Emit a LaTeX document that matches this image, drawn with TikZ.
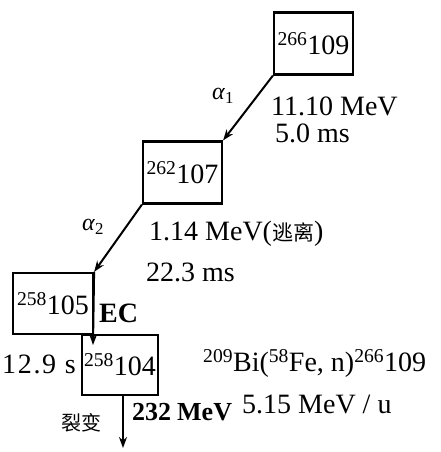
\documentclass[tikz,border=0pt]{standalone}
\usepackage{fontspec}
\setmainfont{Liberation Serif}
\newfontfamily\cjk{Noto Sans CJK SC}
\usetikzlibrary{arrows.meta}

\begin{document}
\begin{tikzpicture}[x=1pt, y=-1pt,
  nucbox/.style={draw, line width=2.2pt, minimum width=79pt, minimum height=62pt, inner sep=0pt, font=\fontsize{28}{30}\selectfont},
  decay/.style={line width=2pt, -{Stealth[length=11pt,width=8pt]}},
  lab/.style={inner sep=0pt, anchor=west, font=\fontsize{28}{30}\selectfont},
  alab/.style={inner sep=0pt, font=\fontsize{24}{26}\selectfont}]
\useasboundingbox (0,0) rectangle (440,452);
\node[nucbox] (mt) at (313.5,43.5) {\textsuperscript{266}109};
\node[nucbox] (bh) at (182.5,172.5) {\textsuperscript{262}107};
\node[nucbox, minimum width=80pt, minimum height=61pt] (db) at (53,303.5) {\textsuperscript{258}105};
\node[nucbox, minimum width=76pt, minimum height=60pt] (rf) at (120,365) {\textsuperscript{258}104};
\coordinate (ecend) at (93,345);
\coordinate (fis) at (123,448);
% decays
\draw[decay] (mt.south west) -- (bh.north east);
\draw[decay] (bh.south west) -- (db.north east);
\draw[decay] (db.north east) -- (ecend);
\draw[decay] (rf.south -| fis) -- (fis);
% labels
\node[alab] (a1) at (223,96) {\textit{α}\textsubscript{1}};
\node[lab] (e1) at (271,106) {11.10 MeV};
\node[lab] (t1) at (275,133) {5.0 ms};
\node[alab] (a2) at (93,227) {\textit{α}\textsubscript{2}};
\node[lab] (e2) at (149,234) {1.14 MeV({\cjk\fontsize{21}{22}\selectfont 逃离})};
\node[lab] (t2) at (146,272) {22.3 ms};
\node[lab, font=\fontsize{28}{30}\selectfont\bfseries] (ec) at (99,313) {EC};
\node[lab] (t3) at (2,364) {\addfontfeatures{LetterSpace=6}12.9 s};
\node[lab] (rx) at (203,363) {\textsuperscript{209}Bi(\textsuperscript{58}Fe, n)\textsuperscript{266}109};
\node[lab] (eb) at (242,404) {5.15 MeV / u};
\node[lab, font=\fontsize{26}{28}\selectfont\bfseries] (e3) at (132,412) {232\hspace{6pt}MeV};
\node[lab, anchor=east, font=\fontsize{20}{22}\selectfont\cjk] (lb) at (102,423) {裂变};
\end{tikzpicture}
\end{document}
